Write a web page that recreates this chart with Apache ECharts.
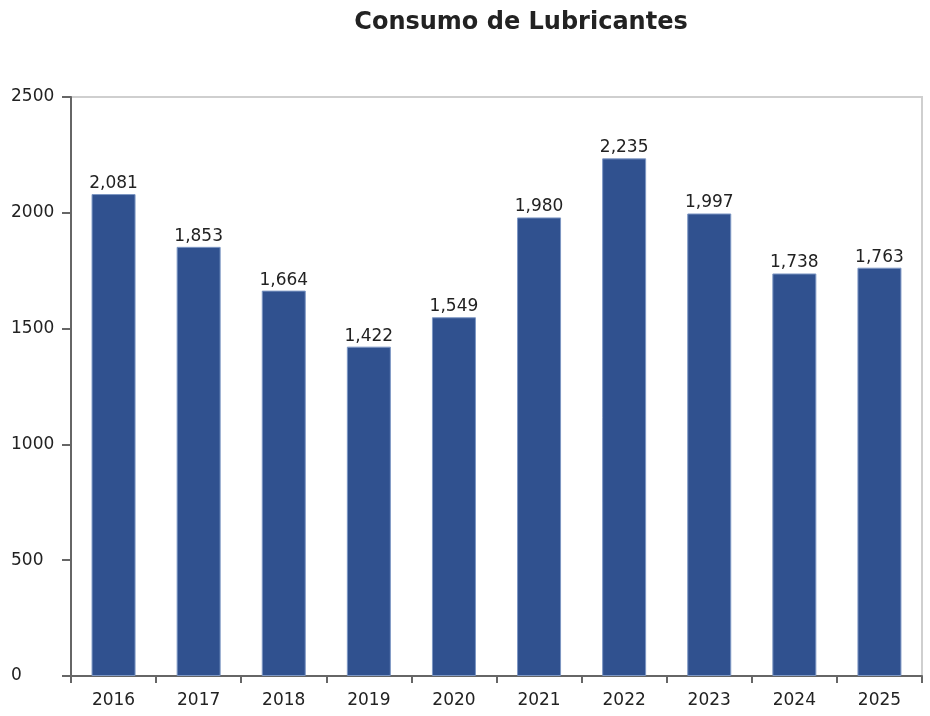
<!DOCTYPE html>
<html><head><meta charset="utf-8">
<script src="https://cdn.jsdelivr.net/npm/echarts@6/dist/echarts.min.js"></script>
<style>html,body{margin:0;padding:0;background:#fff}#c{width:930px;height:716px}</style>
</head><body><div id="c"></div>
<script>
const categories = ['2016','2017','2018','2019','2020','2021','2022','2023','2024','2025'];
const values = [2081,1853,1664,1422,1549,1980,2235,1997,1738,1763];
const yTicks = {min:0, max:2500, interval:500};

const chart = echarts.init(document.getElementById('c'));
chart.setOption({
  animation:false,
  title:{text:'Consumo de Lubricantes', left:516, top:6, textAlign:'center',
    textStyle:{fontFamily:'DejaVu Sans', fontWeight:'bold', fontSize:24, color:'#222'}},
  grid:{left:71, right:8, top:97, bottom:40, show:true, borderColor:'#cfcfcf', borderWidth:2},
  xAxis:{type:'category', data:categories,
    axisLine:{lineStyle:{color:'#666', width:2}},
    axisTick:{show:true, length:7, lineStyle:{color:'#666', width:2}},
    axisLabel:{fontFamily:'DejaVu Sans', fontSize:17, color:'#222', margin:16}},
  yAxis:{type:'value', min:yTicks.min, max:yTicks.max, interval:yTicks.interval,
    splitLine:{show:false},
    axisLine:{show:true, lineStyle:{color:'#666', width:2}},
    axisTick:{show:true, length:9, lineStyle:{color:'#666', width:2}},
    axisLabel:{fontFamily:'DejaVu Sans', fontSize:17, color:'#222', margin:60, align:'left', formatter:v=>String(v)}},
  series:[{type:'bar', data:values, barWidth:44,
    itemStyle:{color:'#30518f', borderColor:'#7d97c4', borderWidth:1},
    label:{show:true, position:'top', distance:2, fontFamily:'DejaVu Sans', fontSize:17, color:'#222',
      formatter:p=>p.value.toLocaleString('en-US')}}]
});
</script></body></html>
